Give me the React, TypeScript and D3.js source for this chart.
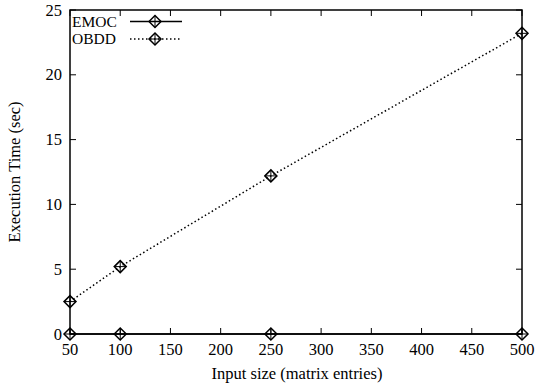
import React, { useEffect, useRef } from "react";
import * as d3 from "d3";

const sizes = [50, 100, 250, 500];
const emoc = [0, 0, 0, 0];
const obdd = [2.5, 5.2, 12.2, 23.2];
const xTicks = [50, 100, 150, 200, 250, 300, 350, 400, 450, 500];
const yTicks = [0, 5, 10, 15, 20, 25];

const W = 537;
const H = 387;
const left = 70;
const right = 522;
const top = 10;
const bottom = 334;
const font = "'Liberation Serif', 'Times New Roman', serif";

const App: React.FC = () => {
  const svgRef = useRef<SVGSVGElement | null>(null);

  useEffect(() => {
    if (!svgRef.current) return;
    const svg = d3.select(svgRef.current);
    svg.selectAll("*").remove();

    const x = d3.scaleLinear().domain([50, 500]).range([left, right]);
    const y = d3.scaleLinear().domain([0, 25]).range([bottom, top]);

    // ticks (inward, mirrored)
    const tk = svg.append("g").attr("stroke", "#000").attr("stroke-width", 1);
    xTicks.forEach((t) => {
      tk.append("line").attr("x1", x(t)).attr("x2", x(t)).attr("y1", bottom).attr("y2", bottom - 6);
      tk.append("line").attr("x1", x(t)).attr("x2", x(t)).attr("y1", top).attr("y2", top + 6);
    });
    yTicks.forEach((t) => {
      tk.append("line").attr("x1", left).attr("x2", left + 6).attr("y1", y(t)).attr("y2", y(t));
      tk.append("line").attr("x1", right).attr("x2", right - 6).attr("y1", y(t)).attr("y2", y(t));
    });

    // tick labels
    svg
      .append("g")
      .selectAll("text")
      .data(xTicks)
      .join("text")
      .attr("x", (d) => x(d))
      .attr("y", bottom + 21)
      .attr("text-anchor", "middle")
      .attr("font-family", font)
      .attr("font-size", 16.5)
      .text((d) => d);

    svg
      .append("g")
      .selectAll("text")
      .data(yTicks)
      .join("text")
      .attr("x", left - 8)
      .attr("y", (d) => y(d) + 5.5)
      .attr("text-anchor", "end")
      .attr("font-family", font)
      .attr("font-size", 16.5)
      .text((d) => d);

    // axis titles
    svg
      .append("text")
      .attr("x", 297)
      .attr("y", 379)
      .attr("text-anchor", "middle")
      .attr("font-family", font)
      .attr("font-size", 16.5)
      .text("Input size (matrix entries)");

    svg
      .append("text")
      .attr("transform", `translate(20, 172) rotate(-90)`)
      .attr("text-anchor", "middle")
      .attr("font-family", font)
      .attr("font-size", 16.5)
      .text("Execution Time (sec)");

    const line = d3
      .line<number>()
      .x((_, i) => x(sizes[i]))
      .y((d) => y(d));

    const marker = (g: d3.Selection<SVGGElement, unknown, null, undefined>, cx: number, cy: number) => {
      const r = 6;
      g.append("path")
        .attr("d", `M${cx - r},${cy}L${cx},${cy - r}L${cx + r},${cy}L${cx},${cy + r}Z`)
        .attr("fill", "none")
        .attr("stroke", "#000")
        .attr("stroke-width", 1.5);
      g.append("path")
        .attr("d", `M${cx - r},${cy}H${cx + r}M${cx},${cy - r}V${cy + r}`)
        .attr("stroke", "#000")
        .attr("stroke-width", 1);
    };

    const series = [
      { name: "EMOC", values: emoc, dash: null as string | null },
      { name: "OBDD", values: obdd, dash: "1.5,2.5" },
    ];

    series.forEach((s) => {
      const g = svg.append("g");
      g.append("path")
        .datum(s.values)
        .attr("d", line)
        .attr("fill", "none")
        .attr("stroke", "#000")
        .attr("stroke-width", 1.5)
        .attr("stroke-dasharray", s.dash);
      s.values.forEach((v, i) => marker(g, x(sizes[i]), y(v)));
    });

    // frame
    svg
      .append("rect")
      .attr("x", left)
      .attr("y", top)
      .attr("width", right - left)
      .attr("height", bottom - top)
      .attr("fill", "none")
      .attr("stroke", "#000")
      .attr("stroke-width", 1.5);

    // legend
    series.forEach((s, i) => {
      const ly = 21.5 + i * 17.5;
      const g = svg.append("g");
      g.append("text")
        .attr("x", 72)
        .attr("y", ly + 5)
        .attr("font-family", font)
        .attr("font-size", 15.5)
        .text(s.name);
      g.append("line")
        .attr("x1", 130)
        .attr("x2", 182)
        .attr("y1", ly)
        .attr("y2", ly)
        .attr("stroke", "#000")
        .attr("stroke-width", 1.5)
        .attr("stroke-dasharray", s.dash);
      marker(g, 155, ly);
    });
  }, []);

  return <svg ref={svgRef} width={W} height={H} style={{ position: "absolute", left: 0, top: 0 }} />;
};

export default App;
